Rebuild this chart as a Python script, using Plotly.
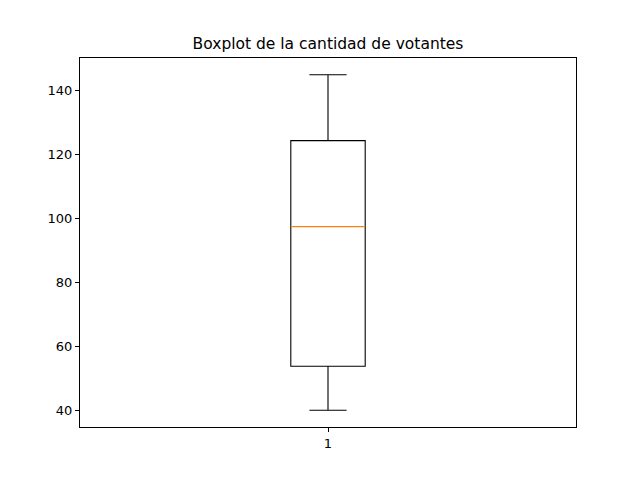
import plotly.graph_objects as go

# resumen de la cantidad de votantes
categorias = [1]
minimo = [40]
q1 = [53.75]
mediana = [97.5]
q3 = [124.4]
maximo = [145]

ANCHO = 0.15

fig = go.Figure()
fig.add_trace(go.Box(
    x=categorias, q1=q1, median=mediana, q3=q3,
    lowerfence=minimo, upperfence=maximo,
    width=ANCHO, whiskerwidth=0.5,
    line=dict(color="black", width=1.1),
    fillcolor="rgba(0,0,0,0)",
    boxpoints=False, hoverinfo="skip",
))
# línea de la mediana en naranja, como matplotlib
for c, m in zip(categorias, mediana):
    fig.add_trace(go.Scatter(
        x=[c - ANCHO / 2, c + ANCHO / 2], y=[m, m], mode="lines",
        line=dict(color="#ff7f0e", width=1.3), hoverinfo="skip",
    ))

rango = max(maximo) - min(minimo)
fig.update_layout(
    width=640, height=480,
    margin=dict(l=72, r=72, t=50, b=61),
    paper_bgcolor="white", plot_bgcolor="white",
    showlegend=False,
    font=dict(family="DejaVu Sans", size=13, color="black"),
    title=dict(text="Boxplot de la cantidad de votantes", x=0.5, xref="paper",
               y=1 - 36 / 480, yanchor="middle", font=dict(size=15.5)),
)
fig.update_xaxes(range=[0.5, 1.5], tickvals=categorias, ticktext=[str(c) for c in categorias],
                 showgrid=False, zeroline=False, showline=True, mirror=True,
                 linecolor="black", linewidth=1, ticks="outside", ticklen=4,
                 tickcolor="black")
fig.update_yaxes(range=[min(minimo) - 0.05 * rango, max(maximo) + 0.05 * rango],
                 tickvals=[40, 60, 80, 100, 120, 140],
                 showgrid=False, zeroline=False, showline=True, mirror=True,
                 linecolor="black", linewidth=1, ticks="outside", ticklen=4,
                 tickcolor="black")

fig.write_html("out.html")
